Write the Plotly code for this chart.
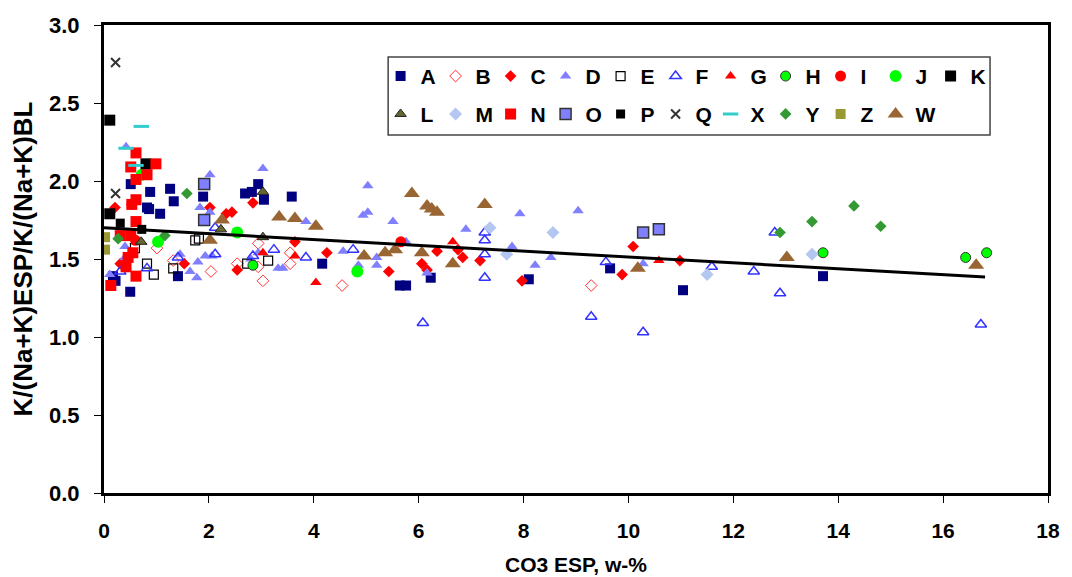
# Scatter K/(Na+K) ratio vs CO3 ESP, grouped by sample series
import plotly.graph_objects as go

# === 1. Data ===
a_x = [0.17, 0.22, 0.5, 1.41, 0.51, 0.88, 1.26, 1.33, 0.82, 0.86, 1.07, 1.89, 2.69, 2.82, 2.94, 3.05, 3.58, 4.16, 5.64, 5.76, 6.23, 8.1, 9.65, 11.04, 13.71]
a_y = [1.39, 1.36, 1.29, 1.39, 1.98, 1.93, 1.95, 1.87, 1.83, 1.82, 1.79, 1.90, 1.92, 1.93, 1.98, 1.88, 1.90, 1.47, 1.33, 1.33, 1.38, 1.37, 1.44, 1.30, 1.39]
b_x = [1.01, 1.32, 2.04, 2.54, 2.94, 2.94, 3.03, 3.55, 3.55, 4.54, 9.29]
b_y = [1.57, 1.49, 1.42, 1.47, 1.60, 1.45, 1.36, 1.54, 1.47, 1.33, 1.33]
c_x = [0.21, 0.53, 0.31, 1.53, 2.02, 2.33, 2.44, 2.84, 2.54, 3.64, 4.25, 5.43, 6.06, 6.16, 6.35, 6.75, 6.84, 7.17, 7.97, 9.88, 10.09, 10.98]
c_y = [1.83, 1.85, 1.47, 1.47, 1.83, 1.79, 1.80, 1.86, 1.43, 1.61, 1.54, 1.42, 1.47, 1.43, 1.55, 1.56, 1.51, 1.49, 1.36, 1.40, 1.58, 1.49]
d_x = [0.42, 0.82, 2.02, 3.03, 1.83, 2.02, 0.4, 0.4, 0.11, 1.45, 1.64, 1.77, 1.79, 1.93, 2.06, 2.80, 2.94, 3.32, 3.41, 3.85,
       5.03, 5.03, 4.94, 5.51, 6.9, 4.56, 5.2, 5.2, 4.85, 6.16, 5.76, 7.93, 9.04, 7.78, 8.22, 8.52, 10.28]
d_y = [2.22, 2.08, 2.04, 2.08, 1.83, 1.80, 1.58, 1.51, 1.40, 1.53, 1.42, 1.38, 1.48, 1.52, 1.52, 1.50, 1.54, 1.44, 1.44, 1.74,
       1.97, 1.80, 1.78, 1.74, 1.69, 1.55, 1.51, 1.46, 1.46, 1.41, 1.61, 1.79, 1.81, 1.58, 1.46, 1.51, 1.47]
e_x = [0.59, 0.82, 0.95, 1.32, 1.74, 1.81, 2.73, 3.13]
e_y = [1.57, 1.47, 1.40, 1.44, 1.62, 1.63, 1.47, 1.49]
f_x = [0.31, 0.82, 1.41, 2.12, 2.12, 2.84, 3.24, 3.85, 4.75, 7.26, 7.26, 7.26, 7.26, 9.57, 9.29, 10.28, 11.59, 12.39, 12.89, 12.79, 16.72, 6.08]
f_y = [1.42, 1.44, 1.51, 1.53, 1.70, 1.52, 1.56, 1.51, 1.56, 1.67, 1.62, 1.53, 1.38, 1.48, 1.13, 1.03, 1.45, 1.42, 1.28, 1.67, 1.08, 1.09]
g_x = [3.03, 3.64, 4.04, 6.65, 10.58]
g_y = [1.54, 1.52, 1.35, 1.61, 1.49]
h_x = [2.84, 13.71, 16.43, 16.83]
h_y = [1.46, 1.54, 1.51, 1.54]
i_x = [5.66, 0.6]
i_y = [1.61, 1.62]
j_x = [0.72, 1.03, 2.54, 4.83]
j_y = [2.04, 1.61, 1.67, 1.42]
k_x = [0.11, 0.8, 0.11]
k_y = [2.39, 2.11, 1.79]
l_x = [0.71, 2.23, 3.03, 3.03]
l_y = [1.61, 1.69, 1.93, 1.64]
m_x = [7.36, 8.56, 7.68, 11.5, 13.5]
m_y = [1.70, 1.67, 1.53, 1.40, 1.53]
n_x = [0.61, 0.51, 0.99, 0.61, 0.82, 0.61, 0.53, 0.61, 0.51, 0.31, 0.55, 0.46, 0.42, 0.61, 0.13]
n_y = [2.18, 2.09, 2.11, 2.01, 2.04, 1.88, 1.85, 1.74, 1.65, 1.65, 1.54, 1.51, 1.45, 1.39, 1.33]
o_x = [1.91, 1.91, 10.28, 10.58]
o_y = [1.98, 1.75, 1.67, 1.69]
p_x = [0.31, 0.72]
p_y = [1.73, 1.69]
q_x = [0.22, 0.22]
q_y = [2.76, 1.92]
xx_x = [0.71, 0.61, 0.42]
xx_y = [2.35, 2.10, 2.21]
y_x = [0.27, 1.16, 1.58, 12.89, 13.5, 14.3, 14.81]
y_y = [1.63, 1.65, 1.92, 1.67, 1.74, 1.84, 1.71]
z_x = [0.02, 0.02]
z_y = [1.64, 1.56]
w_x = [2.02, 2.25, 3.34, 3.64, 4.04, 4.96, 5.36, 5.55, 5.87, 6.06, 6.16, 6.25, 6.35, 6.65, 7.26, 10.18, 13.02, 16.63]
w_y = [1.62, 1.75, 1.77, 1.76, 1.71, 1.52, 1.54, 1.56, 1.92, 1.54, 1.84, 1.82, 1.80, 1.47, 1.85, 1.44, 1.51, 1.46]

trend_x = [0, 16.8]
trend_y = [1.70, 1.385]

# === 2. Marker styles per series: (name, x, y, symbol, size, fill, line color, line width, legend) ===
series = [
    ("A", a_x, a_y, "square", 10, "#000080", "#000080", 0, "legend"),
    ("B", b_x, b_y, "diamond-open", 9, "#FF3333", "#FF3333", 1, "legend"),
    ("C", c_x, c_y, "diamond", 9, "#FF0000", "#FF0000", 0, "legend"),
    ("D", d_x, d_y, "triangle-up", 10, "#8080FF", "#8080FF", 0, "legend"),
    ("E", e_x, e_y, "square-open", 9, "#000000", "#000000", 1.2, "legend"),
    ("F", f_x, f_y, "triangle-up-open", 10, "#3333FF", "#3333FF", 1.5, "legend"),
    ("G", g_x, g_y, "triangle-up", 10, "#FF0000", "#FF0000", 0, "legend"),
    ("H", h_x, h_y, "circle", 10, "#00FF00", "#333333", 1, "legend"),
    ("I", i_x, i_y, "circle", 11, "#FF0000", "#FF0000", 0, "legend"),
    ("J", j_x, j_y, "circle", 12, "#00FF00", "#00FF00", 0, "legend"),
    ("K", k_x, k_y, "square", 11, "#000000", "#000000", 0, "legend"),
    ("L", l_x, l_y, "triangle-up", 10, "#666633", "#222222", 1, "legend2"),
    ("M", m_x, m_y, "diamond", 10, "#B4C7F0", "#B4C7F0", 0, "legend2"),
    ("N", n_x, n_y, "square", 11, "#FF0000", "#FF0000", 0, "legend2"),
    ("O", o_x, o_y, "square", 11, "#8080FF", "#333333", 1.5, "legend2"),
    ("P", p_x, p_y, "square", 9, "#000000", "#000000", 0, "legend2"),
    ("Q", q_x, q_y, "x-thin", 9, "#333333", "#333333", 2, "legend2"),
    ("X", xx_x, xx_y, "line-ew", 11, "#33CCCC", "#33CCCC", 3, "legend2"),
    ("Y", y_x, y_y, "diamond", 9, "#339933", "#339933", 0, "legend2"),
    ("Z", z_x, z_y, "square", 10, "#999933", "#999933", 0, "legend2"),
    ("W", w_x, w_y, "triangle-up", 14, "#996633", "#996633", 0, "legend2"),
]

fig = go.Figure()
for name, xs, ys, sym, size, fill, lcol, lw, leg in series:
    fig.add_trace(go.Scatter(
        x=xs, y=ys, mode="markers", name=name, legend=leg,
        # ultimo elemento de cada fila con mas ancho para que no se recorte la letra
        legendwidth=30 if name in ("K", "W") else None,
        marker=dict(symbol=sym, size=size, color=fill, line=dict(color=lcol, width=lw)),
    ))

# Linea de tendencia
fig.add_trace(go.Scatter(x=trend_x, y=trend_y, mode="lines", showlegend=False,
                         line=dict(color="black", width=3)))

font_fam = "Liberation Sans, Arial, sans-serif"
leg_common = dict(orientation="h", xanchor="left", yanchor="top", x=0.293,
                  entrywidth=10, bgcolor="rgba(0,0,0,0)", borderwidth=0,
                  font=dict(family=font_fam, size=21, color="black", weight="bold"),
                  itemclick=False)

# La pagina tiene 8 px de margen en el body: se descuentan del tamano
fig.update_layout(
    width=1064, height=569,
    margin=dict(l=96, r=24, t=17, b=84),
    paper_bgcolor="white", plot_bgcolor="white",
    font=dict(family=font_fam, color="black"),
    legend=dict(y=0.934, **leg_common),
    legend2=dict(y=0.853, **leg_common),
    shapes=[dict(type="rect", xref="paper", yref="paper", x0=0.301, x1=0.9386, y0=0.765, y1=0.9316,
                 line=dict(color="#444444", width=1.5), fillcolor="white", layer="below")],
    xaxis=dict(range=[0, 18], dtick=2, showgrid=False, zeroline=False, automargin=False,
               showline=True, linecolor="black", linewidth=3, mirror=True,
               ticks="outside", ticklen=7, tickcolor="black",
               tickfont=dict(size=21, weight="bold"), ticklabelstandoff=10,
               title=dict(text="CO3 ESP, w-%", font=dict(size=21, weight="bold"), standoff=17)),
    yaxis=dict(range=[0, 3], dtick=0.5, tickformat=".1f", showgrid=False, zeroline=False, automargin=False,
               showline=True, linecolor="black", linewidth=3, mirror=True,
               ticks="outside", ticklen=7, tickcolor="black",
               tickfont=dict(size=22, weight="bold"), ticklabelstandoff=10,
               title=dict(text="K/(Na+K)ESP/K/(Na+K)BL", font=dict(size=26, weight="bold"), standoff=10)),
)

fig.write_html("out.html")
